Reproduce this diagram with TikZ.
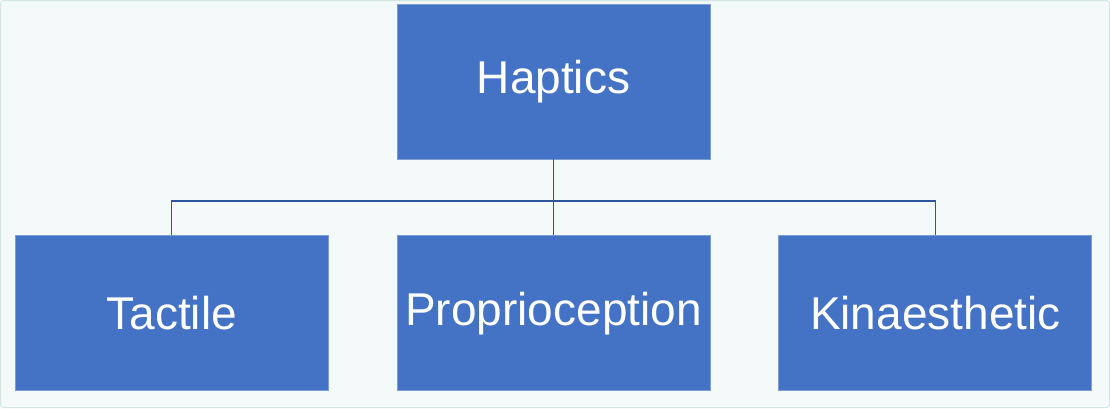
\documentclass[tikz,border=0pt]{standalone}
\usepackage{fontspec}
\setmainfont{Liberation Sans}
\usetikzlibrary{positioning,calc}
\definecolor{HapBlue}{HTML}{4472C4}
\definecolor{HapEdge}{HTML}{7D9DD6}
\definecolor{HapLine}{HTML}{2F55A0}
\definecolor{HapBack}{HTML}{F4FAFA}
\definecolor{HapFrame}{HTML}{D3E6E6}

\tikzset{
  senseblock/.style={rectangle,fill=HapBlue,draw=HapEdge,line width=0.8pt,
    minimum width=313pt,minimum height=155pt,inner sep=0pt,text=white,
    font=\fontsize{46}{52}\selectfont},
  branch/.style={draw=HapLine,line width=1.5pt}
}

\begin{document}
\begin{tikzpicture}[x=1pt,y=-1pt]
  \useasboundingbox (0,0) rectangle (1110,408);
  \draw[fill=HapBack,draw=HapFrame,line width=1pt,rounded corners=3pt]
    (0.5,0.5) rectangle (1109.5,407.5);

  \node[senseblock] (haptics) at (553.5,81.5) {Haptics};
  \node[senseblock,below=76pt of haptics] (proprio) {Proprioception};
  \node[senseblock,left=68pt of proprio] (tactile) {Tactile};
  \node[senseblock,right=68pt of proprio] (kinaes) {Kinaesthetic};

  \coordinate (bus) at ($(haptics.south)!0.55!(proprio.north)$);
  \draw[branch] (haptics.south) -- (proprio.north);
  \draw[branch] (tactile.north) |- (bus) -| (kinaes.north);
\end{tikzpicture}
\end{document}
